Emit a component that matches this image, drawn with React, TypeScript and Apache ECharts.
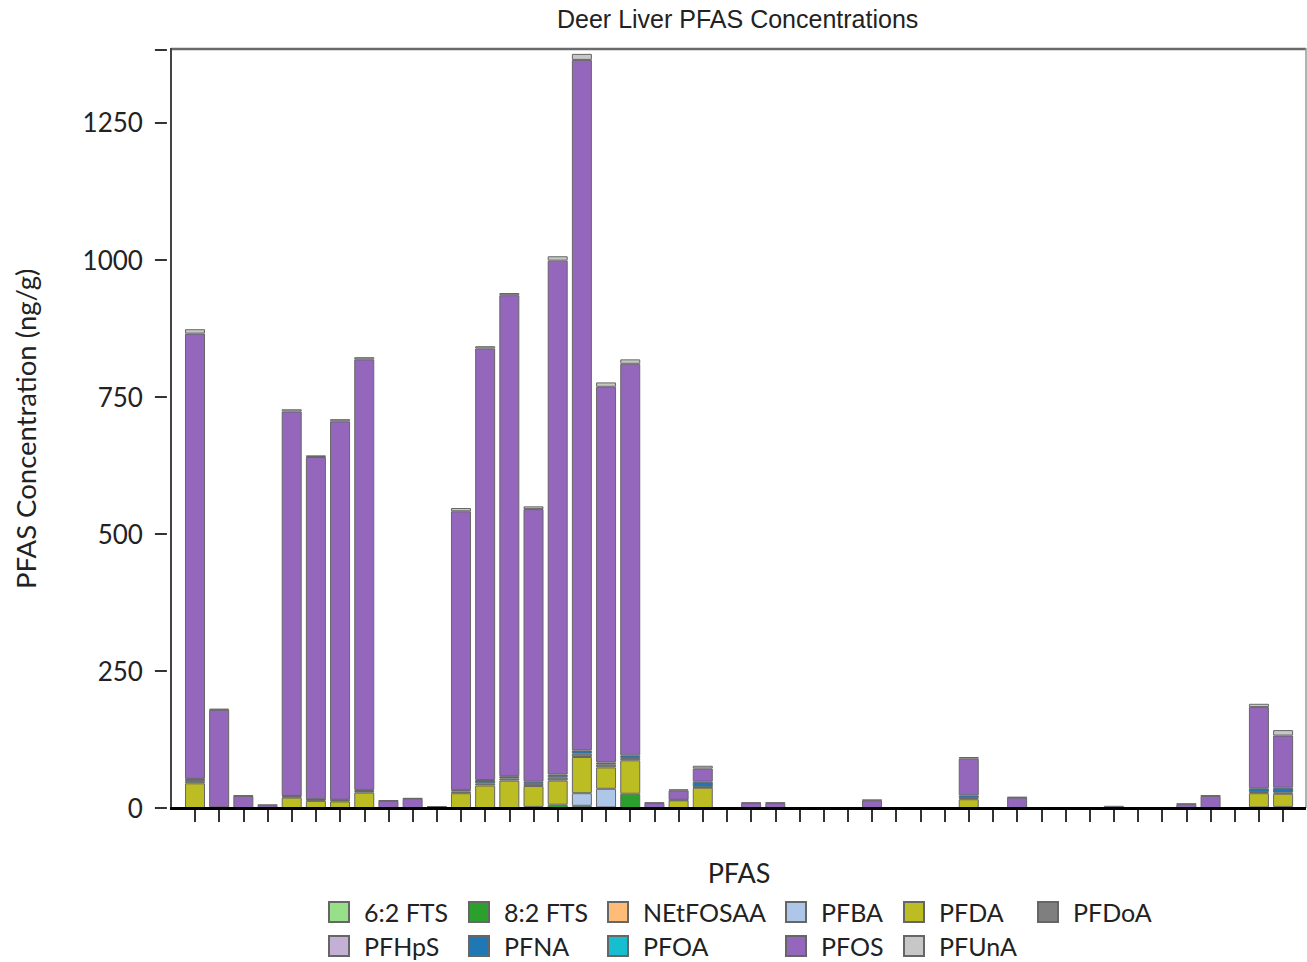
import React, { useEffect, useRef } from "react";
import * as echarts from "echarts";

const samples = [
  "D1", "D2", "D3", "D4", "D5", "D6", "D7", "D8", "D9", "D10",
  "D11", "D12", "D13", "D14", "D15", "D16", "D17", "D18", "D19", "D20",
  "D21", "D22", "D23", "D24", "D25", "D26", "D27", "D28", "D29", "D30",
  "D31", "D32", "D33", "D34", "D35", "D36", "D37", "D38", "D39", "D40",
  "D41", "D42", "D43", "D44", "D45", "D46",
];

const yTicks = [0, 250, 500, 750, 1000, 1250];

const fts62 = [
  0, 0, 0, 0, 0, 0, 0, 0, 0, 0, 0, 0, 0, 0, 0, 0, 0, 0, 0, 0, 0, 0, 0,
  0, 0, 0, 0, 0, 0, 0, 0, 0, 0, 0, 0, 0, 0, 0, 0, 0, 0, 0, 0, 0, 0, 0,
];
const fts82 = [
  0, 0, 0, 0, 0, 0, 0, 0, 0, 0, 0, 0, 0, 0, 2, 6, 4, 1, 26, 0, 0, 0, 0,
  0, 0, 0, 0, 0, 0, 0, 0, 0, 0, 0, 0, 0, 0, 0, 0, 0, 0, 0, 0, 0, 1, 2,
];
const netfosaa = [
  0, 0, 0, 0, 0, 0, 0, 0, 0, 0, 0, 0, 0, 0, 0, 0, 0, 0, 0, 0, 0, 0, 0,
  0, 0, 0, 0, 0, 0, 0, 0, 0, 0, 0, 0, 0, 0, 0, 0, 0, 0, 0, 0, 0, 0, 0,
];
const pfba = [
  0, 0, 0, 0, 0, 0, 0, 0, 0, 0, 0, 0, 0, 0, 0, 0, 23, 34, 0, 0, 0, 0, 0,
  0, 0, 0, 0, 0, 0, 0, 0, 0, 0, 0, 0, 0, 0, 0, 0, 0, 0, 0, 0, 0, 0, 0,
];
const pfda = [
  45, 1, 0, 0, 19, 13, 12, 28, 0, 0, 0, 27, 41, 50, 38, 44, 66, 39, 61, 0, 14, 37, 0,
  0, 0, 0, 0, 0, 0, 0, 0, 0, 16, 0, 0, 0, 0, 0, 0, 0, 0, 0, 0, 0, 26, 24,
];
const pfdoa = [
  4, 0, 0, 0, 2, 2, 2, 3, 0, 0, 0, 3, 4, 4, 4, 6, 6, 5, 4, 0, 1, 1, 0,
  0, 0, 0, 0, 0, 0, 0, 0, 0, 2, 0, 0, 0, 0, 0, 0, 0, 0, 0, 0, 0, 2, 2,
];
const pfhps = [
  0, 0, 0, 0, 0, 0, 0, 0, 0, 0, 0, 0, 0, 0, 0, 0, 0, 0, 0, 0, 0, 0, 0,
  0, 0, 0, 0, 0, 0, 0, 0, 0, 0, 0, 0, 0, 0, 0, 0, 0, 0, 0, 0, 0, 0, 0,
];
const pfna = [
  4, 0, 0, 0, 1, 1, 1, 2, 0, 0, 0, 3, 6, 4, 4, 5, 6, 4, 5, 0, 0, 10, 0,
  0, 0, 0, 0, 0, 0, 0, 0, 0, 5, 0, 0, 0, 0, 0, 0, 0, 0, 0, 0, 0, 7, 9,
];
const pfoa = [
  0, 0, 0, 0, 0, 0, 0, 0, 0, 0, 0, 0, 0, 0, 0, 0, 0, 0, 0, 0, 0, 0, 0,
  0, 0, 0, 0, 0, 0, 0, 0, 0, 0, 0, 0, 0, 0, 0, 0, 0, 0, 0, 0, 0, 0, 0,
];
const pfos = [
  812, 178, 22, 5, 701, 624, 690, 785, 13, 17, 2, 508, 787, 877, 497, 937, 1259, 685, 714, 9, 17, 24, 1,
  9, 9, 1, 1, 1, 14, 1, 1, 1, 67, 1, 19, 1, 1, 1, 4, 1, 1, 7, 22, 1, 148, 95,
];
const pfuna = [
  8, 2, 1, 1, 4, 3, 4, 4, 1, 1, 1, 6, 4, 4, 5, 8, 11, 8, 8, 1, 2, 5, 0,
  1, 1, 0, 0, 0, 1, 0, 0, 0, 3, 0, 1, 0, 0, 0, 0, 0, 0, 1, 1, 0, 6, 10,
];

const seriesNames = [
  "6:2 FTS", "8:2 FTS", "NEtFOSAA", "PFBA", "PFDA", "PFDoA",
  "PFHpS", "PFNA", "PFOA", "PFOS", "PFUnA",
];
const seriesValues = [
  fts62, fts82, netfosaa, pfba, pfda, pfdoa, pfhps, pfna, pfoa, pfos, pfuna,
];
const seriesColors = [
  "#98df8a", "#2ca02c", "#ffbb78", "#aec7e8", "#bcbd22", "#7f7f7f",
  "#c5b0d5", "#1f77b4", "#17becf", "#9467bd", "#c7c7c7",
];

const legendColumns = [
  ["6:2 FTS", "PFHpS"],
  ["8:2 FTS", "PFNA"],
  ["NEtFOSAA", "PFOA"],
  ["PFBA", "PFOS"],
  ["PFDA", "PFUnA"],
  ["PFDoA"],
];
const legendLefts = [328, 468, 607, 785, 903, 1037];

const FONT = "Lato, 'Noto Sans', sans-serif";

export default function App() {
  const ref = useRef<HTMLDivElement>(null);

  useEffect(() => {
    if (!ref.current) return;
    const chart = echarts.init(ref.current, null, { renderer: "svg" });

    const gridLeft = 182.9;
    const gridRight = 1307 - 1295.2;
    const gridTop = 49.5;
    const gridBottomY = 808;

    const option: any = {
      animation: false,
      backgroundColor: "#ffffff",
      title: {
        text: "Deer Liver PFAS Concentrations",
        left: 557,
        top: 6,
        padding: 0,
        textStyle: {
          fontFamily: "'Liberation Sans', Arial, sans-serif",
          fontSize: 25,
          fontWeight: "normal",
          color: "#222",
        },
      },
      legend: legendColumns.map((col, i) => ({
        data: col,
        orient: "vertical",
        left: legendLefts[i],
        top: 897,
        height: 80,
        padding: 0,
        itemWidth: 20,
        itemHeight: 20,
        itemGap: 4,
        icon: "rect",
        selectedMode: false,
        textStyle: {
          fontFamily: FONT,
          fontSize: 25,
          color: "#222",
          lineHeight: 30,
          padding: [0, 0, 0, 10],
        },
      })),
      grid: {
        left: gridLeft,
        right: gridRight,
        top: gridTop,
        bottom: 962 - gridBottomY,
        containLabel: false,
      },
      xAxis: {
        type: "category",
        data: samples,
        name: "PFAS",
        nameLocation: "middle",
        nameGap: 48,
        nameTextStyle: { fontFamily: FONT, fontSize: 27, color: "#222" },
        offset: 3,
        axisLine: { show: false },
        axisTick: {
          show: true,
          interval: 0,
          alignWithLabel: true,
          length: 14,
          lineStyle: { color: "#333", width: 2 },
        },
        axisLabel: { show: false, interval: 0 },
        splitLine: { show: false },
      },
      yAxis: {
        type: "value",
        min: 0,
        max: 1383,
        interval: 250,
        offset: 16,
        name: "PFAS Concentration (ng/g)",
        nameLocation: "middle",
        nameGap: 127,
        nameTextStyle: { fontFamily: FONT, fontSize: 27.5, color: "#222" },
        axisLine: { show: false },
        axisTick: {
          show: true,
          length: 12,
          lineStyle: { color: "#333", width: 2 },
        },
        axisLabel: {
          margin: 24,
          fontFamily: FONT,
          fontSize: 26,
          color: "#222",
          customValues: yTicks,
          formatter: (v: number) => String(v),
        },
        splitLine: { show: false },
      },
      series: seriesNames.map((name, i) => ({
        name,
        type: "bar",
        stack: "total",
        barWidth: 20,
        itemStyle: {
          color: seriesColors[i],
          borderColor: "#666",
          borderWidth: 1,
        },
        emphasis: { disabled: true },
        data: seriesValues[i].map((v) => (v === 0 ? null : v)),
      })),
      graphic: [
        {
          type: "line",
          z: 100,
          shape: { x1: 171, y1: 49, x2: 1306, y2: 49 },
          style: { stroke: "#6a6a6a", lineWidth: 2.5 },
        },
        {
          type: "line",
          z: 100,
          shape: { x1: 1306, y1: 48, x2: 1306, y2: 808 },
          style: { stroke: "#999", lineWidth: 1.5 },
        },
        {
          type: "line",
          z: 100,
          shape: { x1: 171, y1: 48, x2: 171, y2: 808 },
          style: { stroke: "#444", lineWidth: 2 },
        },
        {
          type: "line",
          z: 100,
          shape: { x1: 170, y1: 808.5, x2: 1306, y2: 808.5 },
          style: { stroke: "#000", lineWidth: 3 },
        },
      ],
    };

    chart.setOption(option);
    return () => chart.dispose();
  }, []);

  return (
    <div
      ref={ref}
      style={{
        position: "fixed",
        left: 0,
        top: 0,
        width: 1307,
        height: 962,
        background: "#fff",
      }}
    />
  );
}
